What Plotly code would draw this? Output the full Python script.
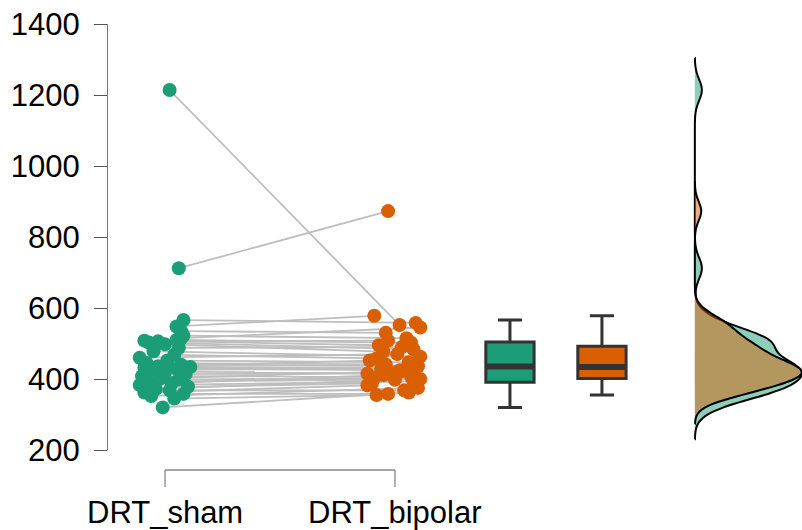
import numpy as np
import plotly.graph_objects as go

# ---- data ----
categories = ["DRT_sham", "DRT_bipolar"]
sham = [320, 345, 352, 358, 362, 368, 372, 378, 383, 389, 392, 398, 402, 408, 414,
        420, 425, 428, 432, 434, 436, 440, 445, 452, 460, 468, 478, 488, 498, 503,
        506, 508, 510, 515, 522, 535, 548, 566, 712, 1214]
bipolar = [362, 355, 375, 358, 382, 368, 398, 388, 393, 411, 400, 403, 422, 407, 415,
           419, 432, 425, 428, 430, 452, 436, 441, 447, 470, 458, 463, 490, 477, 484,
           508, 495, 502, 545, 515, 530, 578, 558, 873, 552]
y_ticks = [200, 400, 600, 800, 1000, 1200, 1400]

# horizontal jitter offsets of the points
sham_jitter = [-0.01, 0.04, -0.06, 0.08, -0.09, 0.02, -0.04, 0.10, -0.11, 0.03,
               -0.07, 0.06, -0.02, -0.10, 0.09, 0.00, -0.06, 0.05, -0.09, 0.11,
               -0.03, 0.07, -0.08, 0.01, -0.11, 0.04, -0.05, 0.06, 0.00, -0.07,
               -0.03, -0.09, 0.05, 0.07, 0.08, 0.07, 0.05, 0.08, 0.06, 0.02]
bip_jitter = [0.06, -0.08, 0.10, -0.03, -0.12, 0.04, 0.00, -0.10, 0.08, -0.05,
              0.11, -0.09, 0.03, 0.07, -0.12, -0.02, 0.09, 0.02, -0.06, 0.05,
              -0.11, 0.10, -0.04, 0.06, 0.01, -0.08, 0.11, 0.03, -0.05, 0.08,
              -0.03, -0.07, 0.07, 0.11, 0.05, -0.04, -0.09, 0.09, -0.03, 0.02]

GREEN = "#1B9E77"
ORANGE = "#D95F02"
FONT = "Liberation Sans, Arial, sans-serif"

pos_sham, pos_bip = 1.0, 2.0
pos_box = [2.5, 2.9]
pos_dens = 3.304

xs = [pos_sham + j for j in sham_jitter]
xb = [pos_bip + j for j in bip_jitter]

fig = go.Figure()

# connecting lines
lx, ly = [], []
for a, b, va, vb in zip(xs, xb, sham, bipolar):
    lx += [a, b, None]
    ly += [va, vb, None]
fig.add_trace(go.Scatter(x=lx, y=ly, mode="lines",
                         line=dict(color="#BEBEBE", width=1.8), hoverinfo="skip"))

fig.add_trace(go.Scatter(x=xs, y=sham, mode="markers",
                         marker=dict(color=GREEN, size=14, line=dict(width=0))))
fig.add_trace(go.Scatter(x=xb, y=bipolar, mode="markers",
                         marker=dict(color=ORANGE, size=14, line=dict(width=0))))

# box plots (outliers hidden but excluded from whiskers)
for vals, p, col in [(sham, pos_box[0], GREEN), (bipolar, pos_box[1], ORANGE)]:
    fig.add_trace(go.Box(y=vals, x0=p, width=0.21, boxpoints="outliers",
                         marker=dict(opacity=0, size=1),
                         fillcolor=col, line=dict(color="#333333", width=3),
                         whiskerwidth=0.5, quartilemethod="inclusive"))
    med = float(np.median(vals))
    fig.add_trace(go.Scatter(x=[p - 0.103, p + 0.103], y=[med, med], mode="lines",
                             line=dict(color="#333333", width=6), hoverinfo="skip"))

# densities
for vals, col, bw in [(sham, "rgba(27,158,119,0.5)", 30), (bipolar, "rgba(217,95,2,0.5)", 27)]:
    fig.add_trace(go.Violin(y=vals, x0=pos_dens, side="positive", points=False,
                            bandwidth=bw, spanmode="manual",
                            span=[min(vals) - 3 * bw, max(vals) + 3 * bw],
                            width=0.93, scalemode="count", scalegroup="d",
                            fillcolor=col, line=dict(color="black", width=2),
                            box_visible=False, meanline_visible=False))

# x-axis bracket and labels
yl = -20 / 426
yt = -37 / 426
fig.add_shape(type="line", xref="x", yref="paper", x0=pos_sham, x1=pos_bip, y0=yl, y1=yl,
              line=dict(color="#888888", width=1.3))
for p in [pos_sham, pos_bip]:
    fig.add_shape(type="line", xref="x", yref="paper", x0=p, x1=p, y0=yl, y1=yt,
                  line=dict(color="#888888", width=1.3))
for p, lab in zip([pos_sham, pos_bip], categories):
    fig.add_annotation(x=p, y=-62 / 426, xref="x", yref="paper", text=lab, showarrow=False,
                       font=dict(family=FONT, size=31, color="black"), yanchor="middle")

fig.update_layout(
    width=802, height=530,
    margin=dict(l=108, r=0, t=24, b=80, autoexpand=False),
    paper_bgcolor="white", plot_bgcolor="white",
    showlegend=False,
    xaxis=dict(range=[0.752, 3.770], visible=False, automargin=False),
    yaxis=dict(range=[200, 1400], tickvals=y_ticks, ticktext=[str(v) for v in y_ticks],
               showgrid=False, zeroline=False, showline=True, linecolor="#777777",
               linewidth=1.3, ticks="outside", ticklen=13, tickcolor="#555555",
               tickwidth=1.3, ticklabelstandoff=8, automargin=False,
               tickfont=dict(family=FONT, size=31, color="black")),
)

fig.write_html("out.html", config={"displayModeBar": False},
               post_script="document.body.style.margin='0';document.body.style.overflow='hidden';")
